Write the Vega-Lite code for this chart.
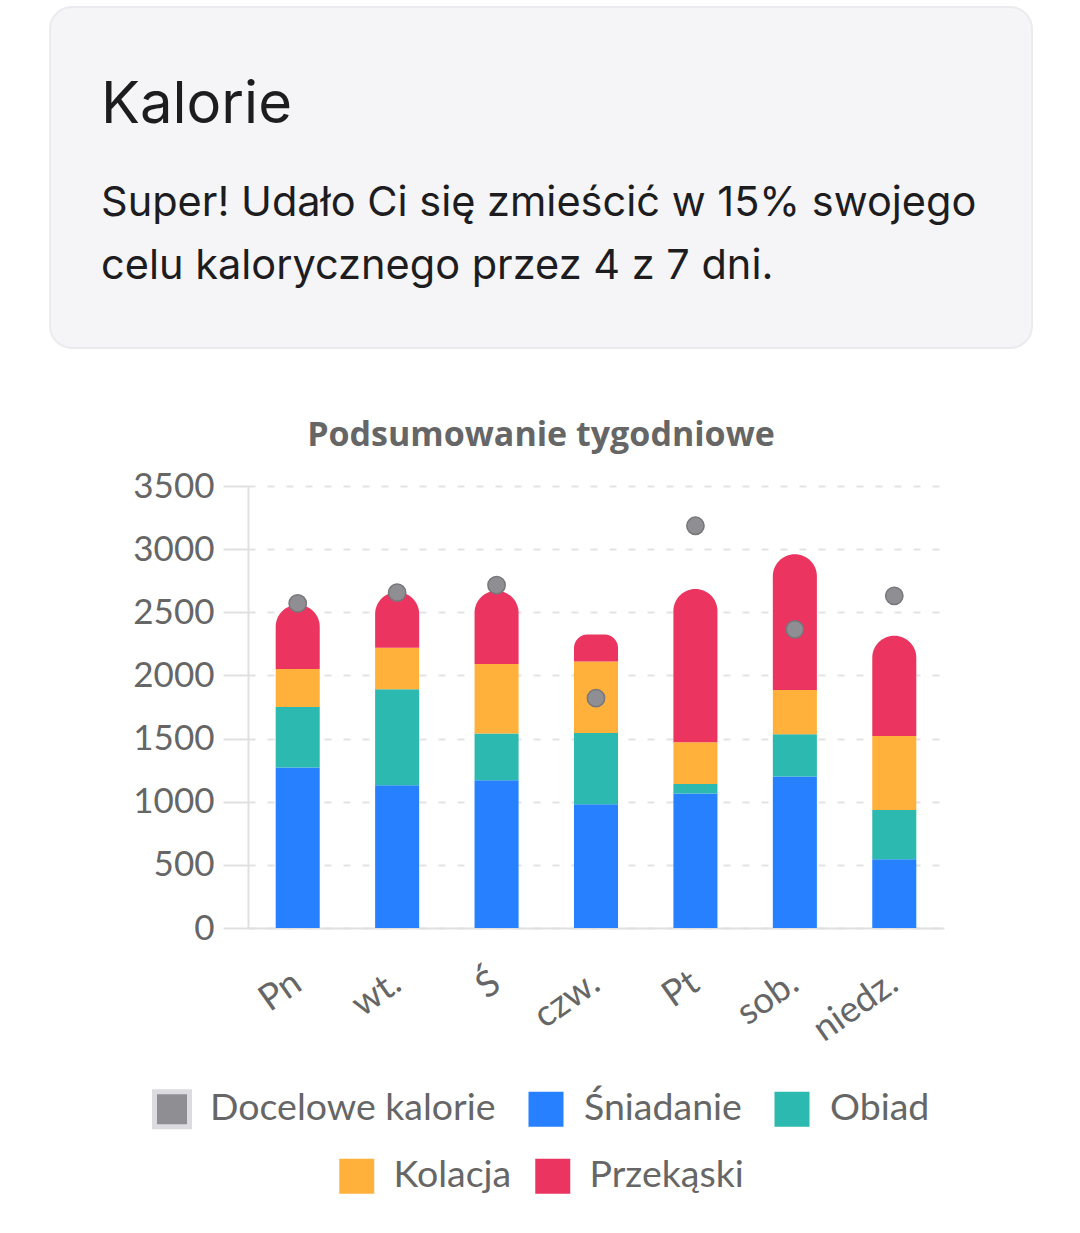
{
  "$schema": "https://vega.github.io/schema/vega-lite/v6.json",
  "background": "white",
  "padding": {"left": 49, "top": 6, "right": 49, "bottom": 0},
  "datasets": {
    "meals": [
      {"day": "Pn", "meal": "Śniadanie", "kcal": 1270},
      {"day": "Pn", "meal": "Obiad", "kcal": 480},
      {"day": "Pn", "meal": "Kolacja", "kcal": 300},
      {"day": "Pn", "meal": "Przekąski", "kcal": 510},
      {"day": "wt.", "meal": "Śniadanie", "kcal": 1130},
      {"day": "wt.", "meal": "Obiad", "kcal": 760},
      {"day": "wt.", "meal": "Kolacja", "kcal": 330},
      {"day": "wt.", "meal": "Przekąski", "kcal": 440},
      {"day": "Ś", "meal": "Śniadanie", "kcal": 1170},
      {"day": "Ś", "meal": "Obiad", "kcal": 370},
      {"day": "Ś", "meal": "Kolacja", "kcal": 550},
      {"day": "Ś", "meal": "Przekąski", "kcal": 580},
      {"day": "czw.", "meal": "Śniadanie", "kcal": 980},
      {"day": "czw.", "meal": "Obiad", "kcal": 565},
      {"day": "czw.", "meal": "Kolacja", "kcal": 565},
      {"day": "czw.", "meal": "Przekąski", "kcal": 215},
      {"day": "Pt", "meal": "Śniadanie", "kcal": 1065},
      {"day": "Pt", "meal": "Obiad", "kcal": 75},
      {"day": "Pt", "meal": "Kolacja", "kcal": 330},
      {"day": "Pt", "meal": "Przekąski", "kcal": 1215},
      {"day": "sob.", "meal": "Śniadanie", "kcal": 1200},
      {"day": "sob.", "meal": "Obiad", "kcal": 335},
      {"day": "sob.", "meal": "Kolacja", "kcal": 350},
      {"day": "sob.", "meal": "Przekąski", "kcal": 1075},
      {"day": "niedz.", "meal": "Śniadanie", "kcal": 545},
      {"day": "niedz.", "meal": "Obiad", "kcal": 390},
      {"day": "niedz.", "meal": "Kolacja", "kcal": 585},
      {"day": "niedz.", "meal": "Przekąski", "kcal": 795}
    ],
    "goals": [
      {"day": "Pn", "series": "Docelowe kalorie", "goal": 2570},
      {"day": "wt.", "series": "Docelowe kalorie", "goal": 2655},
      {"day": "Ś", "series": "Docelowe kalorie", "goal": 2715},
      {"day": "czw.", "series": "Docelowe kalorie", "goal": 1820},
      {"day": "Pt", "series": "Docelowe kalorie", "goal": 3185},
      {"day": "sob.", "series": "Docelowe kalorie", "goal": 2365},
      {"day": "niedz.", "series": "Docelowe kalorie", "goal": 2630}
    ]
  },
  "config": {
    "font": "Lato",
    "view": {"stroke": null},
    "legend": {"layout": {"bottom": {"anchor": "middle", "direction": "vertical", "center": true, "margin": 20}}}
  },
  "spacing": 70,
  "vconcat": [
    {
      "width": 982,
      "height": 341,
      "view": {"fill": "#f5f5f7", "stroke": "#ebebef", "strokeWidth": 2, "cornerRadius": 22},
      "data": {"values": []},
      "mark": {"type": "point", "opacity": 0},
      "encoding": {},
      "title": {
        "text": "Kalorie",
        "subtitle": ["Super! Udało Ci się zmieścić w 15% swojego", "celu kalorycznego przez 4 z 7 dni."],
        "anchor": "start",
        "frame": "group",
        "dx": 51,
        "offset": -280,
        "font": "Inter",
        "fontSize": 58,
        "fontWeight": 400,
        "color": "#1d1d1f",
        "subtitleFont": "Inter",
        "subtitleFontSize": 41.5,
        "subtitleColor": "#1d1d1f",
        "subtitlePadding": 48,
        "subtitleLineHeight": 63
      }
    },
    {
      "width": 982,
      "height": 442,
      "title": {
        "text": "Podsumowanie tygodniowe",
        "anchor": "middle",
        "frame": "group",
        "font": "Open Sans",
        "fontSize": 34,
        "fontWeight": "bold",
        "color": "#666666",
        "offset": 16
      },
      "layer": [
        {
          "data": {"name": "meals"},
          "transform": [
            {"stack": "kcal", "groupby": ["day"], "as": ["y0", "y1"]},
            {"filter": {"field": "meal", "oneOf": ["Śniadanie", "Obiad"]}}
          ],
          "mark": {"type": "bar"},
          "encoding": {
            "x": {
              "field": "day", "type": "nominal",
              "sort": ["Pn", "wt.", "Ś", "czw.", "Pt", "sob.", "niedz."],
              "scale": {"range": [198, 894], "paddingInner": 0.557, "paddingOuter": 0.2785},
              "axis": {
                "title": null, "ticks": false, "grid": false,
                "domainColor": "#e0e0e0", "domainWidth": 2,
                "labelAngle": -35, "labelAlign": "right", "labelBaseline": "middle",
                "labelPadding": 51, "labelFontSize": 36.5, "labelColor": "#666666",
                "labelFont": "Lato", "labelOverlap": false, "labelBound": false, "labelFlush": false
              }
            },
            "y": {
              "field": "y1", "type": "quantitative",
              "scale": {"domain": [0, 3500], "nice": false},
              "axis": {
                "title": null, "values": [0, 500, 1000, 1500, 2000, 2500, 3000, 3500], "format": "d",
                "offset": -198,
                "grid": true, "gridDash": [7, 12], "gridColor": "#e3e3e3", "gridWidth": 2,
                "domainColor": "#e0e0e0", "domainWidth": 2,
                "tickSize": 25, "tickColor": "#e0e0e0", "tickWidth": 2,
                "labelPadding": 9, "labelFontSize": 35, "labelColor": "#666666", "labelFont": "Lato"
              }
            },
            "y2": {"field": "y0"},
            "color": {
              "field": "meal", "type": "nominal",
              "scale": {"domain": ["Docelowe kalorie", "Śniadanie", "Obiad"], "range": ["#8e8e93", "#2680ff", "#2cb9b0"]},
              "legend": {
                "title": null, "orient": "bottom", "direction": "horizontal", "offset": 40,
                "symbolType": "square", "symbolSize": 1225, "symbolStrokeWidth": 0,
                "labelFontSize": 37.5, "labelColor": "#666666", "labelFont": "Lato", "labelLimit": 500,
                "columnPadding": 22, "labelOffset": 18, "padding": 0,
                "encode": {"symbols": {"update": {
                  "stroke": [{"test": "datum.value === 'Docelowe kalorie'", "value": "#dcdce0"}, {"value": "transparent"}],
                  "strokeWidth": {"value": 5}
                }}}
              }
            }
          }
        },
        {
          "data": {"name": "meals"},
          "transform": [
            {"stack": "kcal", "groupby": ["day"], "as": ["y0", "y1"]},
            {"filter": {"field": "meal", "equal": "Kolacja"}}
          ],
          "mark": {"type": "bar"},
          "encoding": {
            "x": {"field": "day", "type": "nominal", "sort": ["Pn", "wt.", "Ś", "czw.", "Pt", "sob.", "niedz."]},
            "y": {"field": "y1", "type": "quantitative"},
            "y2": {"field": "y0"},
            "fill": {
              "field": "meal", "type": "nominal",
              "scale": {"domain": ["Kolacja", "Przekąski"], "range": ["#ffb13b", "#eb3560"]},
              "legend": {
                "title": null, "orient": "bottom", "direction": "horizontal", "offset": 40,
                "symbolType": "square", "symbolSize": 1225, "symbolStrokeWidth": 0,
                "labelFontSize": 37.5, "labelColor": "#666666", "labelFont": "Lato", "labelLimit": 500,
                "columnPadding": 22, "labelOffset": 18, "padding": 0
              }
            }
          }
        },
        {
          "data": {"name": "meals"},
          "transform": [
            {"stack": "kcal", "groupby": ["day"], "as": ["y0", "y1"]},
            {"filter": {"field": "meal", "equal": "Przekąski"}}
          ],
          "mark": {"type": "bar", "cornerRadiusTopLeft": 22, "cornerRadiusTopRight": 22},
          "encoding": {
            "x": {"field": "day", "type": "nominal", "sort": ["Pn", "wt.", "Ś", "czw.", "Pt", "sob.", "niedz."]},
            "y": {"field": "y1", "type": "quantitative"},
            "y2": {"field": "y0"},
            "fill": {"field": "meal", "type": "nominal"}
          }
        },
        {
          "data": {"name": "goals"},
          "mark": {"type": "point", "filled": true, "size": 300, "opacity": 1, "stroke": "#76767b", "strokeWidth": 1.5},
          "encoding": {
            "x": {"field": "day", "type": "nominal", "sort": ["Pn", "wt.", "Ś", "czw.", "Pt", "sob.", "niedz."]},
            "y": {"field": "goal", "type": "quantitative"},
            "color": {"field": "series", "type": "nominal"}
          }
        }
      ]
    }
  ]
}
